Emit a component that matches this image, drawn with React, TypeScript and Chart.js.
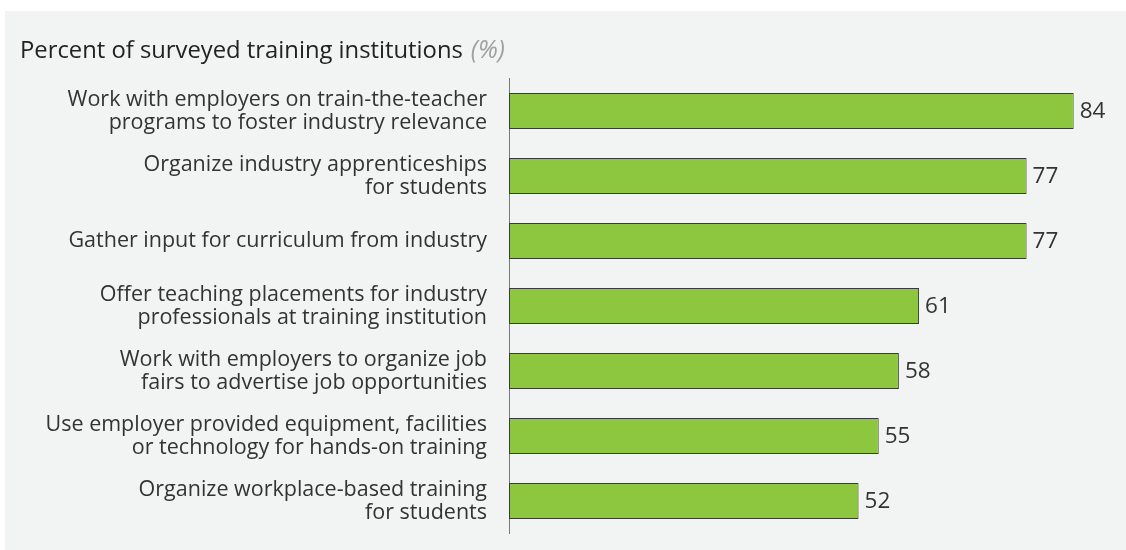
import React, { useEffect, useRef } from "react";
import { Chart, registerables } from "chart.js";

Chart.register(...registerables);

const categories: string[][] = [
  ["Work with employers on train-the-teacher", "programs to foster industry relevance"],
  ["Organize industry apprenticeships", "for students"],
  ["Gather input for curriculum from industry"],
  ["Offer teaching placements for industry", "professionals at training institution"],
  ["Work with employers to organize job", "fairs to advertise job opportunities"],
  ["Use employer provided equipment, facilities", "or technology for hands-on training"],
  ["Organize workplace-based training", "for students"],
];
const values: number[] = [84, 77, 77, 61, 58, 55, 52];
const titleMain = "Percent of surveyed training institutions";
const titleUnit = "(%)";

const FONT = "'Open Sans', 'Noto Sans', sans-serif";
const TEXT = "#333333";

export default function App() {
  const ref = useRef<HTMLCanvasElement | null>(null);

  useEffect(() => {
    document.body.style.margin = "0";
    const canvas = ref.current;
    if (!canvas) return;

    const bgPlugin = {
      id: "bgPanel",
      beforeDraw(chart: any) {
        const ctx = chart.ctx;
        ctx.save();
        ctx.fillStyle = "#ffffff";
        ctx.fillRect(0, 0, chart.width, chart.height);
        ctx.fillStyle = "#f2f3f3";
        ctx.fillRect(5, 11, chart.width - 5, chart.height - 11);
        ctx.restore();
      },
    };

    const titlePlugin = {
      id: "titleRuns",
      afterDraw(chart: any) {
        const ctx = chart.ctx;
        ctx.save();
        ctx.textBaseline = "middle";
        ctx.textAlign = "left";
        ctx.font = `23.8px ${FONT}`;
        ctx.fillStyle = "#222222";
        ctx.fillText(titleMain, 20, 51);
        const w = ctx.measureText(titleMain).width;
        ctx.font = `italic 25px ${FONT}`;
        ctx.fillStyle = "#a0a0a0";
        ctx.fillText(titleUnit, 20 + w + 8, 51);
        ctx.restore();
      },
    };

    const valuePlugin = {
      id: "valueLabels",
      afterDatasetsDraw(chart: any) {
        const ctx = chart.ctx;
        const meta = chart.getDatasetMeta(0);
        ctx.save();
        ctx.font = `22.5px ${FONT}`;
        ctx.fillStyle = TEXT;
        ctx.textAlign = "left";
        ctx.textBaseline = "middle";
        meta.data.forEach((bar: any, i: number) => {
          ctx.fillText(String(values[i]), bar.x + 6, bar.y + 1);
        });
        ctx.restore();
      },
    };

    const chart = new Chart(canvas, {
      type: "bar",
      data: {
        labels: categories,
        datasets: [
          {
            data: values,
            backgroundColor: "#8dc63f",
            borderColor: "#3a3a3a",
            borderWidth: 1,
            borderSkipped: false,
            barPercentage: 0.555,
            categoryPercentage: 1,
          },
        ],
      },
      options: {
        indexAxis: "y",
        animation: false,
        responsive: false,
        maintainAspectRatio: false,
        layout: { padding: { top: 78.5, bottom: 16.5, left: 0, right: 12 } },
        plugins: {
          legend: { display: false },
          tooltip: { enabled: false },
        },
        scales: {
          x: {
            display: false,
            min: 0,
            max: 90,
          },
          y: {
            afterFit(scale: any) {
              scale.width = 509;
              scale.paddingTop = 0;
              scale.paddingBottom = 0;
            },
            grid: { display: false, drawTicks: false },
            border: { display: true, color: "#7a7a7a", width: 1 },
            ticks: {
              padding: 22,
              color: TEXT,
              font: { family: FONT, size: 21.5, lineHeight: 1.08 },
            },
          },
        },
      },
      plugins: [bgPlugin, titlePlugin, valuePlugin],
    } as any);

    return () => chart.destroy();
  }, []);

  return (
    <div style={{ width: 1126, height: 550 }}>
      <canvas ref={ref} width={1126} height={550} style={{ display: "block" }} />
    </div>
  );
}
